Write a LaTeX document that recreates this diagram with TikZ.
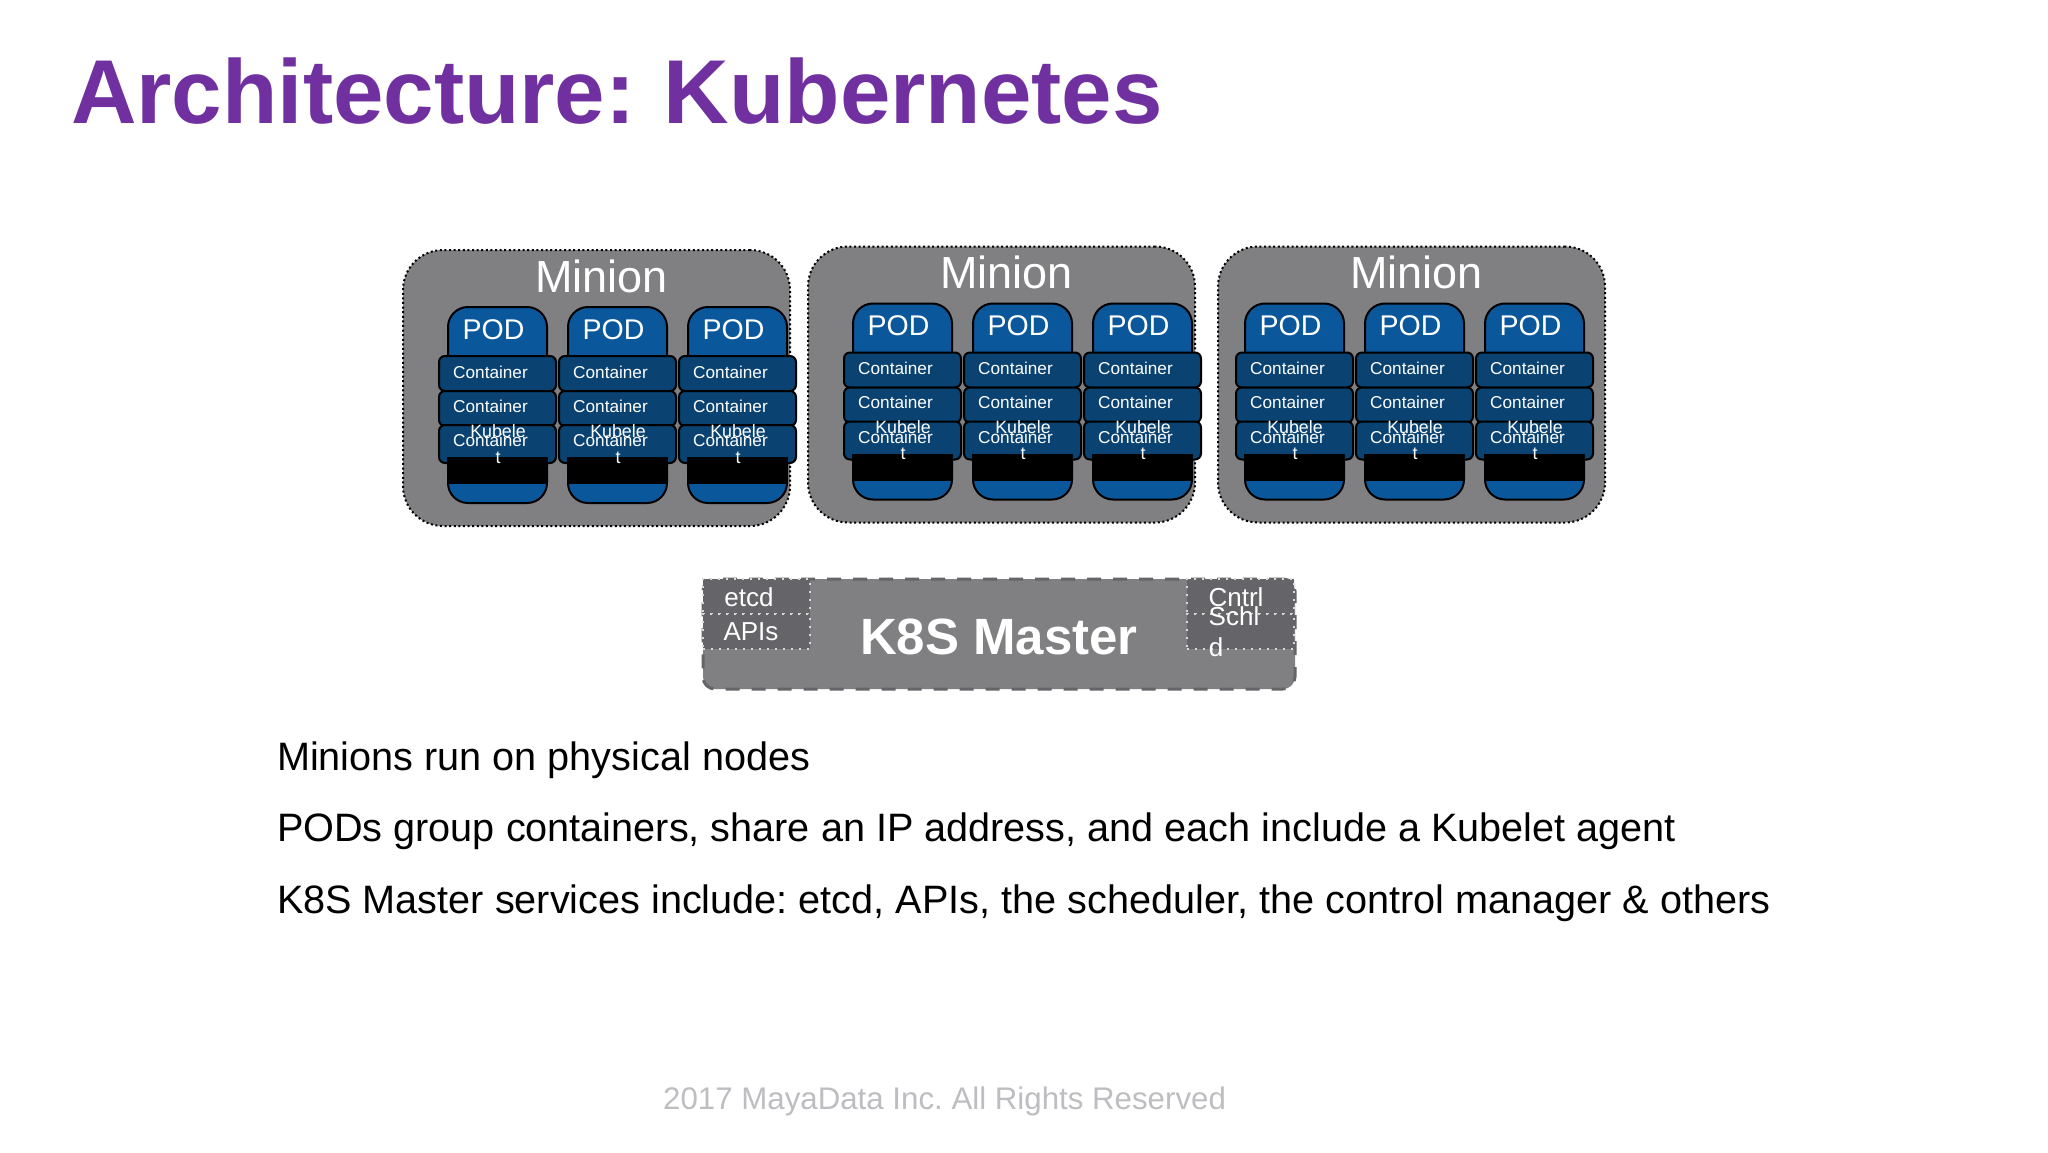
\documentclass[tikz,border=0pt]{standalone}
\usepackage{fontspec}
\setmainfont{Liberation Sans}
\frenchspacing
\definecolor{titlepurple}{HTML}{7030A0}
\definecolor{miniongray}{HTML}{807F82}
\definecolor{podblue}{HTML}{0A589B}
\definecolor{contblue}{HTML}{0A4272}
\definecolor{subgray}{HTML}{656468}
\definecolor{footgray}{HTML}{BEBEC2}
\newcommand{\fsz}[1]{\fontsize{#1}{#1}\selectfont}
\tikzset{
  x=1pt,y=-1pt,
  shapebox/.style={rectangle,inner sep=0pt,outer sep=0pt,anchor=north west},
  minionbox/.style={shapebox,fill=miniongray,draw=black,line width=2pt,dash pattern=on 2pt off 2.6pt,rounded corners=40pt,minimum width=387pt,minimum height=276pt},
  podbox/.style={shapebox,fill=podblue,draw=black,line width=2pt,rounded corners=20pt,minimum width=99pt,minimum height=196pt},
  contbox/.style={shapebox,fill=contblue,draw=black,line width=2pt,rounded corners=6pt,minimum width=117pt,minimum height=35pt},
  bandbox/.style={shapebox,fill=black,minimum width=101pt,minimum height=27pt},
  wtext/.style={text=white,inner sep=0pt,outer sep=0pt,anchor=base},
  miniontext/.style={wtext,font=\fsz{45}},
  podtext/.style={wtext,font=\fsz{28.5}},
  conttext/.style={wtext,font=\fsz{17.2}},
  kubetext/.style={wtext,font=\fsz{17.8}},
  mastertext/.style={wtext,font=\fsz{26}},
  bodytext/.style={text=black,inner sep=0pt,outer sep=0pt,anchor=base west,font=\fsz{39.63}},
  masterbox/.style={shapebox,fill=miniongray,draw=subgray,line width=3pt,dash pattern=on 14pt off 12pt,rounded corners=12pt,minimum width=592pt,minimum height=110pt},
  subbox/.style={shapebox,fill=subgray,draw=white!85!black,line width=1.6pt,dash pattern=on 2pt off 6pt,minimum width=107pt,minimum height=35pt},
}
\begin{document}
\begin{tikzpicture}
\useasboundingbox (0,0) rectangle (2048,1152);
\fill[white] (0,0) rectangle (2048,1152);
\node[text=titlepurple,inner sep=0pt,anchor=base west,font=\bfseries\fsz{90.7}] (title) at (71,123.5) {Architecture:\hspace{3pt} Kubernetes};
\foreach \m/\dx/\dy/\ix in {a/0/0/0,b/405/-3.5/0,c/815/-3.5/-18}{
  \begin{scope}[shift={(\dx,\dy)}]
    \node[minionbox] (minion\m) at (403,250) {};
    \node[miniontext] (miniontitle\m) at (601.5,292) {Minion};
    \foreach \p/\ox in {1/0,2/120,3/240}{
      \begin{scope}[shift={(\ox+\ix,0)}]
        \node[podbox] (pod\m\p) at (448,307) {};
        \node[podtext] (podlabel\m\p) at (493.5,339) {POD};
        \node[contbox] (conta\m\p) at (439,356) {};
        \node[contbox] (contb\m\p) at (439,391) {};
        \node[contbox,minimum height=38pt] (contc\m\p) at (439,425) {};
        \node[bandbox] (band\m\p) at (447,457) {};
        \node[conttext] (ca\m\p) at (490.5,378) {Container};
        \node[conttext] (cb\m\p) at (490.5,412) {Container};
        \node[conttext] (cc\m\p) at (490.5,446.5) {Container};
        \node[kubetext] (ka\m\p) at (498,437) {Kubele};
        \node[kubetext] (kb\m\p) at (498,463) {t};
      \end{scope}
    }
  \end{scope}
}
\node[masterbox] (master) at (703,579) {};
\node[subbox] (etcdbox) at (703,579) {};
\node[subbox] (apibox) at (703,614) {};
\node[subbox] (cntrlbox) at (1187,579) {};
\node[subbox] (schlbox) at (1187,614) {};
\node[mastertext] (etcdt) at (749,606) {etcd};
\node[mastertext] (apit) at (751,640) {APIs};
\node[mastertext] (cntrlt) at (1236,606) {Cntrl};
\node[mastertext] (schlt) at (1234,625) {Schl};
\node[mastertext] (schld) at (1216,656) {d};
\node[wtext,font=\bfseries\fsz{51}] (mastert) at (999,654) {K8S Master};
\node[bodytext] (l1) at (277,770) {Minions run on physical nodes};
\node[bodytext] (l2) at (277,841.5) {PODs group containers, share an IP address, and each include a Kubelet agent};
\node[bodytext] (l3) at (277,913) {K8S Master services include: etcd, APIs, the scheduler, the control manager \& others};
\node[text=footgray,inner sep=0pt,anchor=base west,font=\fsz{31.25}] (foot) at (663,1109.5) {2017 MayaData Inc. All Rights Reserved};
\end{tikzpicture}
\end{document}
